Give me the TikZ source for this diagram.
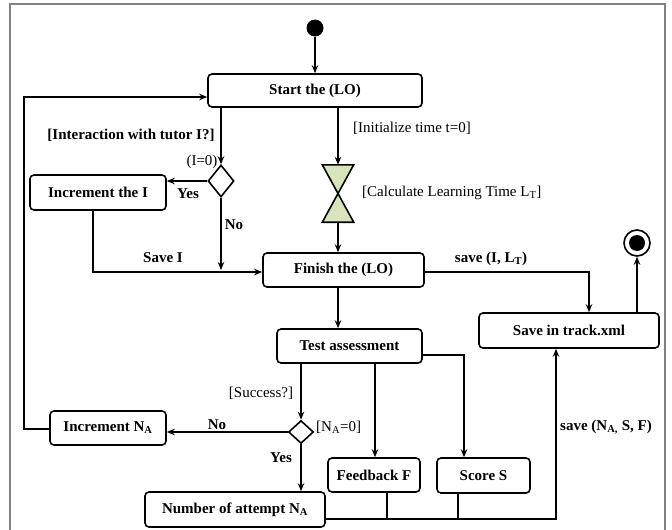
\documentclass[tikz,border=0pt]{standalone}
\usepackage{fontspec}
\setmainfont{Liberation Serif}
\usetikzlibrary{arrows.meta,shapes.geometric,calc}
\begin{document}
\begin{tikzpicture}[x=1pt,y=-1pt,
  box/.style={draw,rounded corners=4pt,line width=1.6pt,inner sep=0pt,font=\fontsize{15}{18}\selectfont\bfseries},
  dia/.style={draw,diamond,line width=1.6pt,inner sep=0pt,aspect=0.8},
  arr/.style={line width=1.4pt,-{Stealth[length=8pt,width=6.5pt]}},
  ln/.style={line width=1.4pt},
  lbl/.style={inner sep=0pt,font=\fontsize{15}{18}\selectfont},
  blbl/.style={inner sep=0pt,font=\fontsize{15}{18}\selectfont\bfseries}]
\useasboundingbox (0,0) rectangle (672,530);
\draw[gray,line width=1.2pt] (10,540) -- (10,4) -- (665,4) -- (665,540);

% nodes
\node[circle,fill=black,inner sep=0pt,minimum size=17pt] (init) at (315,28) {};
\node[box,minimum width=214pt,minimum height=33pt] (start) at (315,90.5) {Start the (LO)};
\node[box,minimum width=136pt,minimum height=35pt] (incI) at (98,192.5) {Increment the I};
\node[dia,minimum width=26pt,minimum height=32pt] (d1) at (221,181) {};
\node[inner sep=0pt,minimum width=31pt,minimum height=57pt] (hg) at (338,193.5) {};
\filldraw[fill={rgb,255:red,216;green,228;blue,188},line width=1.6pt,line join=miter]
  (hg.north west) -- (hg.north east) -- (hg.center) -- cycle
  (hg.center) -- (hg.south east) -- (hg.south west) -- cycle;
\node[box,minimum width=161pt,minimum height=34pt] (fin) at (343.5,270) {Finish the (LO)};
\node[box,minimum width=180pt,minimum height=35pt] (save) at (569,330.5) {Save in track.xml};
\node[circle,draw,line width=1.6pt,minimum size=26pt,inner sep=0pt] (final) at (637,243) {};
\fill (final.center) circle (8pt);
\node[box,minimum width=145pt,minimum height=34pt] (test) at (349.5,346) {Test assessment};
\node[dia,minimum width=25pt,minimum height=23pt] (d2) at (301,432) {};
\node[box,minimum width=116pt,minimum height=34pt] (incN) at (108,428) {Increment N\textsubscript{A}};
\node[box,minimum width=92pt,minimum height=34pt] (fb) at (374,475) {Feedback F};
\node[box,minimum width=93pt,minimum height=35pt] (score) at (483.5,475.5) {Score S};
\node[box,minimum width=180pt,minimum height=35pt] (num) at (235,509.5) {Number of attempt N\textsubscript{A}};

% bend coordinates
\coordinate (cL) at (24,97);
\coordinate (cSI) at (93,272);
\coordinate (cS1) at (589,272);
\coordinate (cSc) at (464,355);
\coordinate (cB) at (556,519);
\coordinate (cFb) at (387,519);
\coordinate (cSb) at (458,519);
\coordinate (cF) at (375,0);

% connectors
\draw[arr] (init) -- (init |- start.north);
\draw[arr] (start.south -| d1.north) -- (d1.north);
\draw[arr] (start.south -| hg.north) -- (hg.north);
\draw[arr] (d1.west) -- (d1.west -| incI.east);
\draw[arr] (d1.south) -- ($(d1.south |- cSI)+(0,-2)$);
\draw[arr] (incI.south -| cSI) -- (cSI) -- (cSI -| fin.west);
\draw[arr] (hg.south) -- (hg.south |- fin.north);
\draw[arr] (cS1 -| fin.east) -- (cS1) -- (cS1 |- save.north);
\draw[arr] (save.north -| final.south) -- (final.south);
\draw[arr] (fin.south -| hg.south) -- (test.north -| hg.south);
\draw[arr] (test.south -| d2.north) -- (d2.north);
\draw[arr] (d2.west) -- (d2.west -| incN.east);
\draw[arr] (incN.west |- 0,429) -- (cL |- 0,429) -- (cL) -- (cL -| start.west);
\draw[arr] (d2.south) -- (d2.south |- num.north);
\draw[arr] (test.south -| cF) -- (fb.north -| cF);
\draw[arr] (cSc -| test.east) -- (cSc) -- (cSc |- score.north);
\draw[ln] (fb.south -| cFb) -- (cFb);
\draw[ln] (score.south -| cSb) -- (cSb);
\draw[arr] (cB -| num.east) -- (cB) -- (cB |- save.south);

% labels
\node[blbl] at (131,135) {[Interaction with tutor I?]};
\node[lbl] at (202,162) {(I=0)};
\node[blbl] at (188,194) {Yes};
\node[blbl] at (234,225) {No};
\node[lbl] at (412,128) {[Initialize time t=0]};
\node[lbl,anchor=west] at (362,193) {[Calculate Learning Time L\textsubscript{T}]};
\node[blbl] at (163,258) {Save I};
\node[blbl] at (491,259) {save (I, L\textsubscript{T})};
\node[lbl] at (261,393) {[Success?]};
\node[blbl] at (217,425) {No};
\node[lbl,anchor=west] at (316,427) {[N\textsubscript{A}=0]};
\node[blbl] at (281,458) {Yes};
\node[blbl] at (606,427) {save (N\textsubscript{A,} S, F)};
\end{tikzpicture}
\end{document}
